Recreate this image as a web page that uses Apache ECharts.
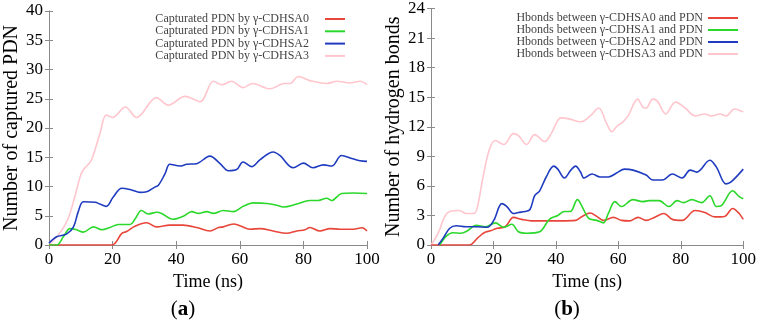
<!DOCTYPE html>
<html><head><meta charset="utf-8">
<script src="https://cdn.jsdelivr.net/npm/echarts@6/dist/echarts.min.js"></script>
<style>html,body{margin:0;padding:0;background:#fff}#c{width:759px;height:323px}</style>
</head><body><div id="c"></div>
<script>
// ---- data: panel (a) captured PDN, [time ns, count]
const capA0 = [[0,0],[19.7,0],[22.9,2],[24.4,2.3],[27,3.2],[30.7,3.8],[33.9,3.1],[38,3.4],[42.2,3.4],[46.4,3],[50.6,2.4],[53.3,3],[54.8,3.1],[58,3.6],[60,3.3],[63.2,2.7],[66.4,2.8],[70.5,2.4],[74.7,2],[77.9,2.4],[80.5,2.6],[82,3],[85.2,2.4],[88.4,2.8],[91.5,2.7],[95.7,2.7],[98.4,2.95],[100,2.4]];
const capA1 = [[0,0],[2.4,0],[4.5,1.4],[6.6,2.8],[8.7,2.6],[10.8,2.2],[14,3.1],[16.6,2.6],[19.2,3],[21.8,3.5],[25.5,3.5],[27,4.4],[29.1,5.9],[31.2,5.3],[33.9,5.6],[35.4,5.4],[39,4.4],[42.2,4.9],[44.9,5.7],[47,5.4],[49.6,5.7],[51.7,5.4],[54.8,5.9],[58,5.7],[61,6.6],[64.3,7.2],[68.5,7.1],[71.6,6.8],[73.7,6.5],[77.9,7],[82,7.6],[84.7,7.6],[87.3,8],[88.9,7.6],[92,8.8],[95.7,8.9],[100,8.8]];
const capA2 = [[0,0.3],[2.4,1.4],[5.6,1.9],[7.7,3.1],[9.2,5.7],[10.8,7.4],[14.5,7.3],[16,7],[18,6.6],[20.2,8.2],[22.9,9.7],[26,9.4],[28.6,9],[30.7,9.1],[33.3,9.9],[34.4,10.2],[36.5,12.2],[38,13.8],[41.2,13.5],[43.3,13.8],[46.4,13.9],[50.6,15.2],[53.8,13.9],[56.4,12.7],[59,12.9],[61,14.2],[63.7,13.4],[66.4,14.6],[70.5,15.9],[72.6,15.3],[76.8,13.2],[80,14],[83,13.2],[86.3,13.7],[88.9,13.5],[92,15.3],[95.2,14.8],[97.8,14.4],[100,14.3]];
const capA3 = [[0,0],[2,1.2],[4,2.5],[6,4.5],[8,8],[10,12],[11,13],[13,14.2],[14,15.5],[16,19],[18,22.2],[20,21.8],[24,23.6],[27.5,21.8],[33.8,25.2],[37.5,23.9],[42.8,25.4],[47.5,24.5],[51.7,28],[54.3,27.4],[57.4,28],[61,26.9],[64,27.6],[69.5,26.7],[74,27.6],[75.8,27.6],[78.4,28.8],[82,28.1],[87.3,27.6],[90.5,28],[94.7,27.7],[97.8,28],[100,27.4]];
// ---- data: panel (b) hydrogen bonds, [time ns, count]
const hbA0 = [[0,0],[12.3,0],[14.9,0.7],[17,1.25],[19.1,1.45],[21.2,1.7],[23.8,1.85],[26.4,2.8],[29,2.6],[32.2,2.45],[36.4,2.45],[41.6,2.45],[46.3,2.5],[48.4,2.9],[51,3.25],[53.1,2.9],[55.2,2.5],[58.4,2.8],[61,2.5],[63.6,2.45],[66.3,2.8],[68.9,2.5],[71.5,2.8],[74.6,3.2],[77.3,2.6],[80.4,2.5],[84.6,3.5],[87.7,3.3],[90.9,2.85],[94,2.9],[96.6,3.7],[98.7,3.2],[100,2.6]];
const hbA1 = [[2.8,0],[4.9,0.9],[7,1.25],[9.6,1.2],[11.7,1.45],[14.4,2],[17.5,1.85],[20.6,2.25],[23.3,1.8],[25.9,2.1],[28,1.35],[30.6,1.2],[34.8,1.35],[37.9,2.6],[40.6,3],[42.7,3.4],[44.6,3.4],[46.9,4.6],[48.4,3.9],[50.5,2.7],[53.1,2.5],[55.2,2.25],[56.8,3.2],[58.9,4.4],[61,3.9],[64.7,4.6],[67.8,4.4],[69.9,4.5],[73,4.5],[76.2,3.9],[78.8,4.5],[80.9,4.3],[83.5,4.6],[86.7,4.3],[89.3,5],[91.4,3.9],[93,4],[96.6,5.5],[98.7,4.9],[100,4.7]];
const hbA2 = [[2.3,0],[3.9,0.7],[6,1.7],[8.1,1.95],[11.2,1.85],[14.4,1.85],[18,1.8],[20.1,2.5],[22.7,4.2],[24.3,3.9],[26.4,3.2],[28,3.3],[30.1,3.4],[31.7,3.6],[33.2,5],[34.8,5.5],[36.9,6.9],[39.3,8],[40.6,7.7],[42.7,6.8],[44.8,7.6],[46.3,8],[47.9,7.4],[49,6.8],[51.6,7.2],[54.2,6.9],[56.8,6.9],[59.4,7.3],[62,7.7],[64.7,7.6],[68.9,7.1],[71,6.6],[74.1,6.6],[77.3,7.2],[80.4,6.8],[83,7.6],[85.1,7.4],[89.3,8.6],[91.4,7.9],[94.5,6.2],[96.1,6.4],[100,7.7]];
const hbA3 = [[0,0],[2.3,1.2],[4.4,2.9],[6,3.4],[9.1,3.5],[11.2,3.2],[13.8,3.2],[14.9,3.9],[16.5,6.6],[18.6,9.6],[20.6,10.6],[23.3,10.2],[26.4,11.3],[28,11.1],[30.6,10.2],[33.2,11.2],[36.4,10.5],[38.5,11.3],[41.6,12.9],[44.2,12.8],[47.9,12.5],[51,13.1],[53.7,13.9],[56.3,12.3],[57.9,11.5],[59.4,12],[61.5,12.5],[63.1,13.1],[66.2,14.8],[67.8,14],[68.9,13.9],[71,14.8],[72.5,14.6],[75.2,13.3],[78.3,14.5],[81.4,13.9],[84.6,13.1],[87.7,13.3],[89.8,13.1],[92.5,13.3],[94.5,13.1],[97.2,13.8],[99.3,13.6],[100,13.5]];
const namesA = ['Capturated PDN by \u03b3-CDHSA0','Capturated PDN by \u03b3-CDHSA1','Capturated PDN by \u03b3-CDHSA2','Capturated PDN by \u03b3-CDHSA3'];
const namesB = ['Hbonds between \u03b3-CDHSA0 and PDN','Hbonds between \u03b3-CDHSA1 and PDN','Hbonds between \u03b3-CDHSA2 and PDN','Hbonds between \u03b3-CDHSA3 and PDN'];
const xTitle = 'Time (ns)';
const yTitleA = 'Number of captured PDN';
const yTitleB = 'Number of hydrogen bonds';

const colors = ['#e8463a','#2bd82b','#1f3cc0','#ffc6ce'];
const FONT = "'Liberation Serif', serif";
const AX = '#8a8a8a';

function xAxes(gi){
  return [
    {type:'value',gridIndex:gi,min:0,max:100,interval:20,position:'bottom',
     axisLine:{lineStyle:{color:AX}},axisTick:{inside:true,length:4,lineStyle:{color:AX}},
     splitLine:{show:false},axisLabel:{color:'#000',fontFamily:FONT,fontSize:17,margin:6},
     name:xTitle,nameLocation:'middle',nameGap:28,nameTextStyle:{color:'#000',fontFamily:FONT,fontSize:18}},
    {type:'value',gridIndex:gi,min:0,max:100,interval:20,position:'top',
     axisLine:{lineStyle:{color:AX}},axisTick:{inside:true,length:4,lineStyle:{color:AX}},
     splitLine:{show:false},axisLabel:{show:false}}
  ];
}
function yAxes(gi,max,intv,title){
  return [
    {type:'value',gridIndex:gi,min:0,max:max,interval:intv,position:'left',
     axisLine:{show:true,lineStyle:{color:AX}},axisTick:{show:true,inside:true,length:4,lineStyle:{color:AX}},
     splitLine:{show:false},axisLabel:{color:'#000',fontFamily:FONT,fontSize:17,margin:6},
     name:title,nameLocation:'middle',nameGap:26,nameTextStyle:{color:'#000',fontFamily:FONT,fontSize:20}},
    {type:'value',gridIndex:gi,min:0,max:max,interval:intv,position:'right',
     axisLine:{show:true,lineStyle:{color:AX}},axisTick:{show:true,inside:true,length:4,lineStyle:{color:AX}},
     splitLine:{show:false},axisLabel:{show:false}}
  ];
}
function mk(name,data,i,xi,yi){
  return {type:'line',name:name,data:data,xAxisIndex:xi,yAxisIndex:yi,smooth:0.35,
    showSymbol:false,symbol:'none',lineStyle:{width:1.6,color:colors[i]},itemStyle:{color:colors[i]},
    z: i===3?1:2, animation:false};
}
const chart = echarts.init(document.getElementById('c'),null,{renderer:'canvas'});
const series = [];
const dA=[capA0,capA1,capA2,capA3], dB=[hbA0,hbA1,hbA2,hbA3];
for(let i=0;i<4;i++) series.push(mk(namesA[i],dA[i],i,0,0));
for(let i=0;i<4;i++) series.push(mk(namesB[i],dB[i],i,2,2));
const legendText = {fontFamily:FONT,fontSize:12,color:'#444',lineHeight:12};
chart.setOption({
  animation:false,
  grid:[{left:49,top:11,width:318,height:234},{left:431,top:7,width:319,height:238}],
  xAxis:[...xAxes(0),...xAxes(1)],
  yAxis:[...yAxes(0,40,5,yTitleA),...yAxes(1,24,3,yTitleB)],
  legend:[
    {data:namesA,orient:'vertical',align:'right',icon:'rect',itemWidth:20,itemHeight:2,itemGap:0.3,
     right:414,top:13,padding:0,textStyle:Object.assign({},legendText,{padding:[0,11,0,0]})},
    {data:namesB,orient:'vertical',align:'right',icon:'rect',itemWidth:30,itemHeight:2,itemGap:0,
     right:21,top:12,padding:0,textStyle:legendText}
  ],
  title:[
    {text:'({a|a})',left:178,top:294,textAlign:'center',textStyle:{fontFamily:FONT,fontSize:21,fontWeight:'normal',color:'#000',rich:{a:{fontFamily:FONT,fontSize:21,fontWeight:'bold',color:'#000'}}}},
    {text:'({a|b})',left:562,top:294,textAlign:'center',textStyle:{fontFamily:FONT,fontSize:21,fontWeight:'normal',color:'#000',rich:{a:{fontFamily:FONT,fontSize:21,fontWeight:'bold',color:'#000'}}}}
  ],
  series:series
});
</script></body></html>
